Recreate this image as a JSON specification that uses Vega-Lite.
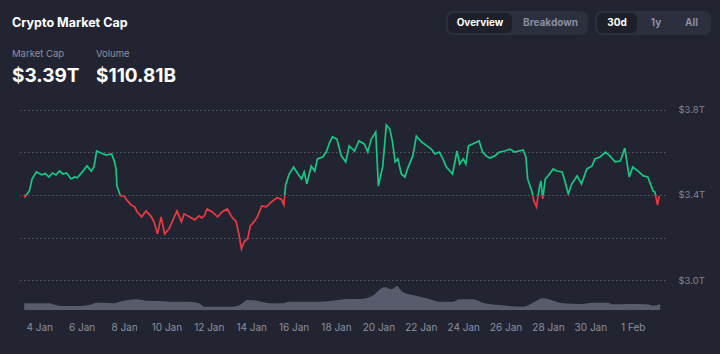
{
  "$schema": "https://vega.github.io/schema/vega-lite/v6.json",
  "width": 647,
  "height": 211,
  "autosize": {"type": "none"},
  "padding": {"left": 18, "top": 99, "right": 55, "bottom": 44},
  "background": "#222531",
  "config": {
    "view": {"stroke": null},
    "font": "Inter",
    "axis": {"labelFont": "Inter"}
  },
  "datasets": {
    "cap": [
      {"t": "2025-01-03T07:00", "cap": 3.400}, {"t": "2025-01-03T08:00", "cap": 3.391}, {"t": "2025-01-03T13:00", "cap": 3.420}, {"t": "2025-01-03T16:00", "cap": 3.475}, {"t": "2025-01-03T21:00", "cap": 3.508},
      {"t": "2025-01-04T03:00", "cap": 3.494}, {"t": "2025-01-04T07:00", "cap": 3.500}, {"t": "2025-01-04T11:00", "cap": 3.484}, {"t": "2025-01-04T15:00", "cap": 3.503}, {"t": "2025-01-04T19:00", "cap": 3.494}, {"t": "2025-01-04T23:00", "cap": 3.512},
      {"t": "2025-01-05T03:00", "cap": 3.498}, {"t": "2025-01-05T07:00", "cap": 3.503}, {"t": "2025-01-05T12:00", "cap": 3.475}, {"t": "2025-01-05T16:00", "cap": 3.484}, {"t": "2025-01-05T19:00", "cap": 3.480},
      {"t": "2025-01-06T01:00", "cap": 3.508}, {"t": "2025-01-06T06:00", "cap": 3.536}, {"t": "2025-01-06T11:00", "cap": 3.512}, {"t": "2025-01-06T14:00", "cap": 3.531}, {"t": "2025-01-06T17:00", "cap": 3.606}, {"t": "2025-01-06T22:00", "cap": 3.597},
      {"t": "2025-01-07T04:00", "cap": 3.587}, {"t": "2025-01-07T10:00", "cap": 3.592}, {"t": "2025-01-07T13:00", "cap": 3.559}, {"t": "2025-01-07T15:00", "cap": 3.522}, {"t": "2025-01-07T16:00", "cap": 3.442}, {"t": "2025-01-07T20:00", "cap": 3.395},
      {"t": "2025-01-08T00:00", "cap": 3.395}, {"t": "2025-01-08T04:00", "cap": 3.372}, {"t": "2025-01-08T08:00", "cap": 3.353}, {"t": "2025-01-08T12:00", "cap": 3.344}, {"t": "2025-01-08T15:00", "cap": 3.320}, {"t": "2025-01-08T20:00", "cap": 3.297},
      {"t": "2025-01-09T01:00", "cap": 3.325}, {"t": "2025-01-09T07:00", "cap": 3.297}, {"t": "2025-01-09T10:00", "cap": 3.274}, {"t": "2025-01-09T14:00", "cap": 3.217}, {"t": "2025-01-09T18:00", "cap": 3.297}, {"t": "2025-01-09T22:00", "cap": 3.217},
      {"t": "2025-01-10T03:00", "cap": 3.241}, {"t": "2025-01-10T09:00", "cap": 3.297}, {"t": "2025-01-10T12:00", "cap": 3.325}, {"t": "2025-01-10T17:00", "cap": 3.274}, {"t": "2025-01-10T20:00", "cap": 3.311},
      {"t": "2025-01-11T02:00", "cap": 3.297}, {"t": "2025-01-11T08:00", "cap": 3.283}, {"t": "2025-01-11T13:00", "cap": 3.302}, {"t": "2025-01-11T16:00", "cap": 3.292}, {"t": "2025-01-11T19:00", "cap": 3.302}, {"t": "2025-01-11T22:00", "cap": 3.334},
      {"t": "2025-01-12T04:00", "cap": 3.320}, {"t": "2025-01-12T10:00", "cap": 3.297}, {"t": "2025-01-12T15:00", "cap": 3.320}, {"t": "2025-01-12T21:00", "cap": 3.334},
      {"t": "2025-01-13T02:00", "cap": 3.297}, {"t": "2025-01-13T07:00", "cap": 3.274}, {"t": "2025-01-13T10:00", "cap": 3.217}, {"t": "2025-01-13T13:00", "cap": 3.147}, {"t": "2025-01-13T16:00", "cap": 3.180}, {"t": "2025-01-13T20:00", "cap": 3.194}, {"t": "2025-01-13T23:00", "cap": 3.255},
      {"t": "2025-01-14T04:00", "cap": 3.278}, {"t": "2025-01-14T07:00", "cap": 3.297}, {"t": "2025-01-14T12:00", "cap": 3.348}, {"t": "2025-01-14T17:00", "cap": 3.344}, {"t": "2025-01-14T23:00", "cap": 3.367},
      {"t": "2025-01-15T05:00", "cap": 3.386}, {"t": "2025-01-15T10:00", "cap": 3.381}, {"t": "2025-01-15T13:00", "cap": 3.353}, {"t": "2025-01-15T15:00", "cap": 3.447}, {"t": "2025-01-15T19:00", "cap": 3.498},
      {"t": "2025-01-16T00:00", "cap": 3.531}, {"t": "2025-01-16T05:00", "cap": 3.498}, {"t": "2025-01-16T09:00", "cap": 3.475}, {"t": "2025-01-16T12:00", "cap": 3.508}, {"t": "2025-01-16T15:00", "cap": 3.452}, {"t": "2025-01-16T20:00", "cap": 3.536},
      {"t": "2025-01-17T00:00", "cap": 3.512}, {"t": "2025-01-17T03:00", "cap": 3.569}, {"t": "2025-01-17T09:00", "cap": 3.578}, {"t": "2025-01-17T13:00", "cap": 3.601}, {"t": "2025-01-17T17:00", "cap": 3.648}, {"t": "2025-01-17T20:00", "cap": 3.672},
      {"t": "2025-01-18T01:00", "cap": 3.662}, {"t": "2025-01-18T06:00", "cap": 3.583}, {"t": "2025-01-18T11:00", "cap": 3.555}, {"t": "2025-01-18T15:00", "cap": 3.630}, {"t": "2025-01-18T21:00", "cap": 3.606},
      {"t": "2025-01-19T02:00", "cap": 3.653}, {"t": "2025-01-19T08:00", "cap": 3.639}, {"t": "2025-01-19T12:00", "cap": 3.601}, {"t": "2025-01-19T16:00", "cap": 3.662}, {"t": "2025-01-19T21:00", "cap": 3.695},
      {"t": "2025-01-20T00:00", "cap": 3.442}, {"t": "2025-01-20T05:00", "cap": 3.536}, {"t": "2025-01-20T09:00", "cap": 3.728}, {"t": "2025-01-20T13:00", "cap": 3.709}, {"t": "2025-01-20T16:00", "cap": 3.648}, {"t": "2025-01-20T19:00", "cap": 3.555}, {"t": "2025-01-20T22:00", "cap": 3.569},
      {"t": "2025-01-21T02:00", "cap": 3.498}, {"t": "2025-01-21T06:00", "cap": 3.484}, {"t": "2025-01-21T09:00", "cap": 3.522}, {"t": "2025-01-21T15:00", "cap": 3.583}, {"t": "2025-01-21T19:00", "cap": 3.676},
      {"t": "2025-01-22T01:00", "cap": 3.648}, {"t": "2025-01-22T07:00", "cap": 3.630}, {"t": "2025-01-22T12:00", "cap": 3.615}, {"t": "2025-01-22T16:00", "cap": 3.592}, {"t": "2025-01-22T21:00", "cap": 3.601},
      {"t": "2025-01-23T01:00", "cap": 3.569}, {"t": "2025-01-23T05:00", "cap": 3.531}, {"t": "2025-01-23T09:00", "cap": 3.512}, {"t": "2025-01-23T12:00", "cap": 3.498}, {"t": "2025-01-23T17:00", "cap": 3.606}, {"t": "2025-01-23T20:00", "cap": 3.545},
      {"t": "2025-01-24T00:00", "cap": 3.569}, {"t": "2025-01-24T03:00", "cap": 3.545}, {"t": "2025-01-24T06:00", "cap": 3.630}, {"t": "2025-01-24T13:00", "cap": 3.644}, {"t": "2025-01-24T18:00", "cap": 3.653}, {"t": "2025-01-24T22:00", "cap": 3.601},
      {"t": "2025-01-25T02:00", "cap": 3.583}, {"t": "2025-01-25T06:00", "cap": 3.573}, {"t": "2025-01-25T12:00", "cap": 3.583}, {"t": "2025-01-25T17:00", "cap": 3.601}, {"t": "2025-01-25T23:00", "cap": 3.606},
      {"t": "2025-01-26T05:00", "cap": 3.615}, {"t": "2025-01-26T10:00", "cap": 3.601}, {"t": "2025-01-26T20:00", "cap": 3.611}, {"t": "2025-01-26T23:00", "cap": 3.578},
      {"t": "2025-01-27T01:00", "cap": 3.475}, {"t": "2025-01-27T06:00", "cap": 3.414}, {"t": "2025-01-27T08:00", "cap": 3.372}, {"t": "2025-01-27T11:00", "cap": 3.344}, {"t": "2025-01-27T14:00", "cap": 3.428}, {"t": "2025-01-27T16:00", "cap": 3.466}, {"t": "2025-01-27T18:00", "cap": 3.381}, {"t": "2025-01-27T21:00", "cap": 3.475},
      {"t": "2025-01-28T00:00", "cap": 3.489}, {"t": "2025-01-28T06:00", "cap": 3.522}, {"t": "2025-01-28T10:00", "cap": 3.512}, {"t": "2025-01-28T16:00", "cap": 3.508}, {"t": "2025-01-28T19:00", "cap": 3.466}, {"t": "2025-01-28T23:00", "cap": 3.405},
      {"t": "2025-01-29T03:00", "cap": 3.452}, {"t": "2025-01-29T09:00", "cap": 3.489}, {"t": "2025-01-29T14:00", "cap": 3.452}, {"t": "2025-01-29T20:00", "cap": 3.522},
      {"t": "2025-01-30T02:00", "cap": 3.536}, {"t": "2025-01-30T05:00", "cap": 3.569}, {"t": "2025-01-30T11:00", "cap": 3.578}, {"t": "2025-01-30T17:00", "cap": 3.601}, {"t": "2025-01-30T22:00", "cap": 3.583},
      {"t": "2025-01-31T04:00", "cap": 3.555}, {"t": "2025-01-31T10:00", "cap": 3.559}, {"t": "2025-01-31T15:00", "cap": 3.620}, {"t": "2025-01-31T20:00", "cap": 3.484},
      {"t": "2025-02-01T00:00", "cap": 3.531}, {"t": "2025-02-01T06:00", "cap": 3.512}, {"t": "2025-02-01T12:00", "cap": 3.489}, {"t": "2025-02-01T17:00", "cap": 3.484}, {"t": "2025-02-01T23:00", "cap": 3.419},
      {"t": "2025-02-02T01:00", "cap": 3.414}, {"t": "2025-02-02T04:00", "cap": 3.353}, {"t": "2025-02-02T06:00", "cap": 3.395}
    ],
    "vol": [
      {"t": "2025-01-03T07:00", "vol": 80}, {"t": "2025-01-04T11:00", "vol": 80}, {"t": "2025-01-04T19:00", "vol": 60}, {"t": "2025-01-05T02:00", "vol": 48}, {"t": "2025-01-05T21:00", "vol": 48},
      {"t": "2025-01-06T09:00", "vol": 60}, {"t": "2025-01-06T17:00", "vol": 88}, {"t": "2025-01-07T04:00", "vol": 88}, {"t": "2025-01-07T11:00", "vol": 80}, {"t": "2025-01-07T19:00", "vol": 100},
      {"t": "2025-01-08T14:00", "vol": 128}, {"t": "2025-01-09T01:00", "vol": 112}, {"t": "2025-01-09T16:00", "vol": 108}, {"t": "2025-01-10T07:00", "vol": 100}, {"t": "2025-01-11T02:00", "vol": 100},
      {"t": "2025-01-11T13:00", "vol": 80}, {"t": "2025-01-11T19:00", "vol": 40}, {"t": "2025-01-12T09:00", "vol": 40}, {"t": "2025-01-13T03:00", "vol": 40}, {"t": "2025-01-13T11:00", "vol": 60},
      {"t": "2025-01-13T20:00", "vol": 120}, {"t": "2025-01-14T06:00", "vol": 112}, {"t": "2025-01-14T17:00", "vol": 88}, {"t": "2025-01-15T00:00", "vol": 80}, {"t": "2025-01-15T11:00", "vol": 80},
      {"t": "2025-01-15T19:00", "vol": 100}, {"t": "2025-01-17T02:00", "vol": 100}, {"t": "2025-01-17T20:00", "vol": 112}, {"t": "2025-01-18T12:00", "vol": 132}, {"t": "2025-01-19T03:00", "vol": 132},
      {"t": "2025-01-19T17:00", "vol": 168}, {"t": "2025-01-20T07:00", "vol": 272}, {"t": "2025-01-20T15:00", "vol": 248}, {"t": "2025-01-20T21:00", "vol": 288}, {"t": "2025-01-21T03:00", "vol": 220},
      {"t": "2025-01-21T15:00", "vol": 180}, {"t": "2025-01-22T07:00", "vol": 140}, {"t": "2025-01-22T21:00", "vol": 100}, {"t": "2025-01-23T12:00", "vol": 100}, {"t": "2025-01-23T20:00", "vol": 128},
      {"t": "2025-01-24T11:00", "vol": 128}, {"t": "2025-01-24T22:00", "vol": 88}, {"t": "2025-01-25T17:00", "vol": 60}, {"t": "2025-01-26T20:00", "vol": 40}, {"t": "2025-01-27T07:00", "vol": 88},
      {"t": "2025-01-27T18:00", "vol": 140}, {"t": "2025-01-28T06:00", "vol": 112}, {"t": "2025-01-28T17:00", "vol": 80}, {"t": "2025-01-29T12:00", "vol": 72}, {"t": "2025-01-30T03:00", "vol": 88},
      {"t": "2025-01-30T19:00", "vol": 88}, {"t": "2025-01-31T02:00", "vol": 68}, {"t": "2025-01-31T18:00", "vol": 72}, {"t": "2025-02-01T16:00", "vol": 68}, {"t": "2025-02-01T23:00", "vol": 52},
      {"t": "2025-02-02T07:00", "vol": 68}
    ]
  },
  "layer": [
    {
      "data": {"name": "vol"},
      "mark": {"type": "area", "color": "#575b6c", "interpolate": "monotone"},
      "encoding": {
        "x": {
          "field": "t", "type": "temporal",
          "scale": {"domain": [{"year": 2025, "month": 1, "date": 3}, {"year": 2025, "month": 2, "date": 2, "hours": 12, "minutes": 30}]},
          "axis": {
            "values": [
              {"year": 2025, "month": 1, "date": 4}, {"year": 2025, "month": 1, "date": 6}, {"year": 2025, "month": 1, "date": 8},
              {"year": 2025, "month": 1, "date": 10}, {"year": 2025, "month": 1, "date": 12}, {"year": 2025, "month": 1, "date": 14},
              {"year": 2025, "month": 1, "date": 16}, {"year": 2025, "month": 1, "date": 18}, {"year": 2025, "month": 1, "date": 20},
              {"year": 2025, "month": 1, "date": 22}, {"year": 2025, "month": 1, "date": 24}, {"year": 2025, "month": 1, "date": 26},
              {"year": 2025, "month": 1, "date": 28}, {"year": 2025, "month": 1, "date": 30}, {"year": 2025, "month": 2, "date": 1}
            ],
            "format": "%-d %b", "title": null, "ticks": false, "domain": false, "grid": false,
            "labelColor": "#8b8fa0", "labelFontSize": 10, "labelPadding": 12, "labelFlush": false
          }
        },
        "y": {"field": "vol", "type": "quantitative", "scale": {"domain": [0, 2532]}, "axis": null}
      }
    },
    {
      "data": {"name": "cap"},
      "mark": {
        "type": "line", "strokeWidth": 1.7,
        "stroke": {
          "gradient": "linear", "x1": 0, "y1": 0, "x2": 0, "y2": 1,
          "stops": [
            {"offset": 0, "color": "#16c784"}, {"offset": 0.5645, "color": "#16c784"},
            {"offset": 0.5645, "color": "#ea3943"}, {"offset": 1, "color": "#ea3943"}
          ]
        }
      },
      "encoding": {
        "x": {
          "field": "t", "type": "temporal",
          "scale": {"domain": [{"year": 2025, "month": 1, "date": 3}, {"year": 2025, "month": 2, "date": 2, "hours": 12, "minutes": 30}]}
        },
        "y": {
          "field": "cap", "type": "quantitative",
          "scale": {"domain": [2.86, 3.85], "zero": false, "nice": false},
          "axis": {
            "orient": "right", "values": [3.0, 3.2, 3.4, 3.6, 3.8],
            "labelExpr": "(datum.value == 3.8 || datum.value == 3.4 || datum.value == 3) ? '$' + format(datum.value, '.1f') + 'T' : ''",
            "title": null, "ticks": false, "domain": false, "grid": true,
            "gridColor": "#555969", "gridDash": [1.5, 2.5], "gridWidth": 1,
            "labelColor": "#7f8394", "labelFontSize": 9.5, "labelPadding": 13
          }
        }
      }
    },
    {
      "data": {"values": [{}]},
      "mark": {"type": "text", "text": "Crypto Market Cap", "fontSize": 12.5, "fontWeight": "bold", "color": "#ffffff", "align": "left", "baseline": "alphabetic"},
      "encoding": {"x": {"value": -6}, "y": {"value": -72}}
    },
    {
      "data": {"values": [{}]},
      "mark": {"type": "text", "text": "Market Cap", "fontSize": 9.5, "color": "#8c90a2", "align": "left", "baseline": "alphabetic"},
      "encoding": {"x": {"value": -6}, "y": {"value": -42}}
    },
    {
      "data": {"values": [{}]},
      "mark": {"type": "text", "text": "Volume", "fontSize": 9.5, "color": "#8c90a2", "align": "left", "baseline": "alphabetic"},
      "encoding": {"x": {"value": 78}, "y": {"value": -42}}
    },
    {
      "data": {"values": [{}]},
      "mark": {"type": "text", "text": "$3.39T", "fontSize": 19, "fontWeight": "bold", "color": "#ffffff", "align": "left", "baseline": "alphabetic"},
      "encoding": {"x": {"value": -6}, "y": {"value": -17}}
    },
    {
      "data": {"values": [{}]},
      "mark": {"type": "text", "text": "$110.81B", "fontSize": 19, "fontWeight": "bold", "color": "#ffffff", "align": "left", "baseline": "alphabetic"},
      "encoding": {"x": {"value": 78}, "y": {"value": -17}}
    },
    {
      "data": {"values": [{}]},
      "mark": {"type": "rect", "color": "#2c2f3d", "cornerRadius": 7},
      "encoding": {"x": {"value": 428}, "x2": {"value": 570}, "y": {"value": -88}, "y2": {"value": -64}}
    },
    {
      "data": {"values": [{}]},
      "mark": {"type": "rect", "color": "#1d1f29", "cornerRadius": 6},
      "encoding": {"x": {"value": 430}, "x2": {"value": 494}, "y": {"value": -86}, "y2": {"value": -66}}
    },
    {
      "data": {"values": [{}]},
      "mark": {"type": "rect", "color": "#2c2f3d", "cornerRadius": 7},
      "encoding": {"x": {"value": 577}, "x2": {"value": 693}, "y": {"value": -88}, "y2": {"value": -64}}
    },
    {
      "data": {"values": [{}]},
      "mark": {"type": "rect", "color": "#1d1f29", "cornerRadius": 6},
      "encoding": {"x": {"value": 579}, "x2": {"value": 619}, "y": {"value": -86}, "y2": {"value": -66}}
    },
    {
      "data": {"values": [{}]},
      "mark": {"type": "text", "text": "Overview", "fontSize": 10, "fontWeight": "bold", "color": "#ffffff", "align": "center", "baseline": "middle"},
      "encoding": {"x": {"value": 462}, "y": {"value": -76}}
    },
    {
      "data": {"values": [{}]},
      "mark": {"type": "text", "text": "Breakdown", "fontSize": 10, "fontWeight": "bold", "color": "#8a8ea0", "align": "center", "baseline": "middle"},
      "encoding": {"x": {"value": 532.5}, "y": {"value": -76}}
    },
    {
      "data": {"values": [{}]},
      "mark": {"type": "text", "text": "30d", "fontSize": 10, "fontWeight": "bold", "color": "#ffffff", "align": "center", "baseline": "middle"},
      "encoding": {"x": {"value": 599}, "y": {"value": -76}}
    },
    {
      "data": {"values": [{}]},
      "mark": {"type": "text", "text": "1y", "fontSize": 10, "fontWeight": "bold", "color": "#8a8ea0", "align": "center", "baseline": "middle"},
      "encoding": {"x": {"value": 638}, "y": {"value": -76}}
    },
    {
      "data": {"values": [{}]},
      "mark": {"type": "text", "text": "All", "fontSize": 10, "fontWeight": "bold", "color": "#8a8ea0", "align": "center", "baseline": "middle"},
      "encoding": {"x": {"value": 673.5}, "y": {"value": -76}}
    }
  ],
  "resolve": {"scale": {"y": "independent"}}
}
